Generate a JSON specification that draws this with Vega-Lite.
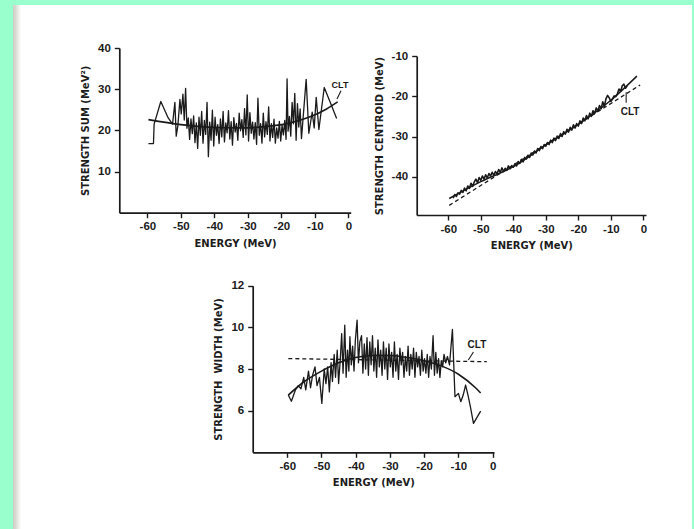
{
  "$schema": "https://vega.github.io/schema/vega-lite/v6.json",
  "width": 679,
  "height": 524,
  "autosize": "none",
  "padding": {"left": 13, "top": 5, "right": 2, "bottom": 0},
  "background": "#99ffcc",
  "config": {
    "view": {
      "stroke": null,
      "fill": {
        "gradient": "linear", "x1": 0, "y1": 0, "x2": 1, "y2": 0,
        "stops": [
          {"offset": 0, "color": "#cdcdc8"},
          {"offset": 0.004, "color": "#dadad5"},
          {"offset": 0.009, "color": "#f2f2ee"},
          {"offset": 0.012, "color": "#ffffff"},
          {"offset": 1, "color": "#ffffff"}
        ]
      }
    },
    "axis": {
      "grid": false,
      "domainColor": "#1a1a1a",
      "domainWidth": 1.7,
      "tickColor": "#1a1a1a",
      "tickWidth": 1.4,
      "tickSize": 5,
      "labelFont": "Liberation Sans",
      "labelFontWeight": "bold",
      "labelFontSize": 11.5,
      "labelColor": "#1c1c1c",
      "labelPadding": 3,
      "labelFlush": false,
      "labelOverlap": false,
      "labelExpr": "datum.value < 0 ? '-' + abs(datum.value) : '' + datum.value",
      "titleFont": "DejaVu Sans",
      "titleFontWeight": "bold",
      "titleFontSize": 10,
      "titleColor": "#1c1c1c",
      "titlePadding": 6
    },
    "axisY": {"labelPadding": 4, "titlePadding": 7},
    "line": {"color": "#1a1a1a", "strokeJoin": "round"},
    "text": {"color": "#1a1a1a", "font": "Liberation Sans", "fontWeight": "bold", "align": "center", "baseline": "middle"}
  },
  "datasets": {
    "sumA": [
      {"e": -59.7, "v": 16.8, "s": "calc"}, {"e": -58.2, "v": 16.8, "s": "calc"}, {"e": -58.0, "v": 21.5, "s": "calc"},
      {"e": -56.0, "v": 27.0, "s": "calc"}, {"e": -53.8, "v": 23.0, "s": "calc"}, {"e": -52.5, "v": 21.5, "s": "calc"},
      {"e": -51.8, "v": 26.8, "s": "calc"}, {"e": -51.4, "v": 18.6, "s": "calc"}, {"e": -50.9, "v": 21.2, "s": "calc"},
      {"e": -50.3, "v": 27.5, "s": "calc"}, {"e": -49.9, "v": 24.0, "s": "calc"}, {"e": -49.4, "v": 28.8, "s": "calc"},
      {"e": -49.0, "v": 22.5, "s": "calc"}, {"e": -48.6, "v": 30.2, "s": "calc"}, {"e": -48.2, "v": 20.5, "s": "calc"},
      {"e": -47.8, "v": 23.0, "s": "calc"}, {"e": -47.4, "v": 17.8, "s": "calc"}, {"e": -47.0, "v": 22.8, "s": "calc"},
      {"e": -46.6, "v": 19.2, "s": "calc"}, {"e": -46.2, "v": 23.5, "s": "calc"}, {"e": -45.8, "v": 17.0, "s": "calc"},
      {"e": -45.4, "v": 21.8, "s": "calc"}, {"e": -45.0, "v": 15.6, "s": "calc"}, {"e": -44.6, "v": 23.2, "s": "calc"},
      {"e": -44.2, "v": 18.8, "s": "calc"}, {"e": -43.8, "v": 24.6, "s": "calc"}, {"e": -43.4, "v": 16.9, "s": "calc"},
      {"e": -43.0, "v": 22.4, "s": "calc"}, {"e": -42.6, "v": 19.0, "s": "calc"}, {"e": -42.2, "v": 26.8, "s": "calc"},
      {"e": -41.8, "v": 13.6, "s": "calc"}, {"e": -41.4, "v": 22.0, "s": "calc"}, {"e": -41.0, "v": 17.6, "s": "calc"},
      {"e": -40.6, "v": 24.9, "s": "calc"}, {"e": -40.2, "v": 16.2, "s": "calc"}, {"e": -39.8, "v": 23.2, "s": "calc"},
      {"e": -39.4, "v": 18.8, "s": "calc"}, {"e": -39.0, "v": 21.4, "s": "calc"}, {"e": -38.6, "v": 16.8, "s": "calc"},
      {"e": -38.2, "v": 22.8, "s": "calc"}, {"e": -37.8, "v": 18.4, "s": "calc"}, {"e": -37.4, "v": 24.6, "s": "calc"},
      {"e": -37.0, "v": 17.2, "s": "calc"}, {"e": -36.6, "v": 21.8, "s": "calc"}, {"e": -36.2, "v": 19.4, "s": "calc"},
      {"e": -35.8, "v": 24.8, "s": "calc"}, {"e": -35.4, "v": 17.9, "s": "calc"}, {"e": -35.0, "v": 22.1, "s": "calc"},
      {"e": -34.6, "v": 16.4, "s": "calc"}, {"e": -34.2, "v": 23.1, "s": "calc"}, {"e": -33.8, "v": 19.6, "s": "calc"},
      {"e": -33.4, "v": 21.7, "s": "calc"}, {"e": -33.0, "v": 17.6, "s": "calc"}, {"e": -32.6, "v": 24.2, "s": "calc"},
      {"e": -32.2, "v": 19.9, "s": "calc"}, {"e": -31.8, "v": 22.6, "s": "calc"}, {"e": -31.4, "v": 18.3, "s": "calc"},
      {"e": -31.0, "v": 25.3, "s": "calc"}, {"e": -30.6, "v": 18.9, "s": "calc"}, {"e": -30.2, "v": 28.6, "s": "calc"},
      {"e": -29.8, "v": 17.4, "s": "calc"}, {"e": -29.4, "v": 24.3, "s": "calc"}, {"e": -29.0, "v": 19.3, "s": "calc"},
      {"e": -28.6, "v": 22.0, "s": "calc"}, {"e": -28.2, "v": 17.9, "s": "calc"}, {"e": -27.8, "v": 21.9, "s": "calc"},
      {"e": -27.4, "v": 16.6, "s": "calc"}, {"e": -27.0, "v": 27.8, "s": "calc"}, {"e": -26.6, "v": 18.8, "s": "calc"},
      {"e": -26.2, "v": 21.6, "s": "calc"}, {"e": -25.8, "v": 16.9, "s": "calc"}, {"e": -25.4, "v": 24.2, "s": "calc"},
      {"e": -25.0, "v": 18.4, "s": "calc"}, {"e": -24.6, "v": 22.1, "s": "calc"}, {"e": -24.2, "v": 19.0, "s": "calc"},
      {"e": -23.8, "v": 25.7, "s": "calc"}, {"e": -23.4, "v": 17.4, "s": "calc"}, {"e": -23.0, "v": 21.6, "s": "calc"},
      {"e": -22.6, "v": 18.3, "s": "calc"}, {"e": -22.2, "v": 22.7, "s": "calc"}, {"e": -21.8, "v": 16.9, "s": "calc"},
      {"e": -21.4, "v": 20.6, "s": "calc"}, {"e": -21.0, "v": 18.1, "s": "calc"}, {"e": -20.6, "v": 22.2, "s": "calc"},
      {"e": -20.2, "v": 17.4, "s": "calc"}, {"e": -19.8, "v": 21.2, "s": "calc"}, {"e": -19.4, "v": 18.9, "s": "calc"},
      {"e": -19.0, "v": 22.4, "s": "calc"}, {"e": -18.6, "v": 17.8, "s": "calc"}, {"e": -18.3, "v": 32.5, "s": "calc"},
      {"e": -18.0, "v": 19.8, "s": "calc"}, {"e": -17.6, "v": 23.4, "s": "calc"}, {"e": -17.2, "v": 18.6, "s": "calc"},
      {"e": -16.8, "v": 26.8, "s": "calc"}, {"e": -16.4, "v": 21.6, "s": "calc"}, {"e": -16.0, "v": 29.0, "s": "calc"},
      {"e": -15.6, "v": 17.6, "s": "calc"}, {"e": -15.2, "v": 26.5, "s": "calc"}, {"e": -14.8, "v": 20.8, "s": "calc"},
      {"e": -14.4, "v": 25.2, "s": "calc"}, {"e": -14.0, "v": 18.0, "s": "calc"}, {"e": -12.6, "v": 32.4, "s": "calc"},
      {"e": -11.8, "v": 19.3, "s": "calc"}, {"e": -10.8, "v": 24.4, "s": "calc"}, {"e": -10.2, "v": 20.6, "s": "calc"},
      {"e": -9.6, "v": 28.0, "s": "calc"}, {"e": -8.8, "v": 20.2, "s": "calc"}, {"e": -7.2, "v": 30.4, "s": "calc"},
      {"e": -5.0, "v": 26.0, "s": "calc"}, {"e": -3.5, "v": 22.9, "s": "calc"},
      {"e": -59.7, "v": 22.6, "s": "smooth"}, {"e": -50, "v": 21.4, "s": "smooth"}, {"e": -40, "v": 20.7, "s": "smooth"},
      {"e": -32, "v": 20.6, "s": "smooth"}, {"e": -25, "v": 20.9, "s": "smooth"}, {"e": -18, "v": 21.7, "s": "smooth"},
      {"e": -12, "v": 23.1, "s": "smooth"}, {"e": -6.5, "v": 25.2, "s": "smooth"}, {"e": -3.2, "v": 26.9, "s": "smooth"},
      {"e": -3.4, "v": 27.6, "s": "pointer"}, {"e": -2.2, "v": 29.6, "s": "pointer"},
      {"e": -2.5, "v": 30.9, "s": "label", "t": "CLT"}
    ],
    "centroidB": [
      {"e": -58.5, "v": -45.3, "s": "calc"}, {"e": -58.0, "v": -44.4, "s": "calc"}, {"e": -57.5, "v": -44.9, "s": "calc"},
      {"e": -57.0, "v": -44.0, "s": "calc"}, {"e": -56.5, "v": -44.3, "s": "calc"}, {"e": -56.0, "v": -43.4, "s": "calc"},
      {"e": -55.5, "v": -43.9, "s": "calc"}, {"e": -55.0, "v": -42.8, "s": "calc"}, {"e": -54.5, "v": -43.5, "s": "calc"},
      {"e": -54.0, "v": -42.3, "s": "calc"}, {"e": -53.5, "v": -42.9, "s": "calc"}, {"e": -53.0, "v": -41.6, "s": "calc"},
      {"e": -52.5, "v": -42.4, "s": "calc"}, {"e": -52.0, "v": -41.3, "s": "calc"}, {"e": -51.5, "v": -40.6, "s": "calc"},
      {"e": -51.0, "v": -41.5, "s": "calc"}, {"e": -50.5, "v": -40.2, "s": "calc"}, {"e": -50.0, "v": -40.9, "s": "calc"},
      {"e": -49.5, "v": -39.8, "s": "calc"}, {"e": -49.0, "v": -40.6, "s": "calc"}, {"e": -48.5, "v": -39.5, "s": "calc"},
      {"e": -48.0, "v": -40.3, "s": "calc"}, {"e": -47.5, "v": -39.2, "s": "calc"}, {"e": -47.0, "v": -39.8, "s": "calc"},
      {"e": -46.5, "v": -38.9, "s": "calc"}, {"e": -46.0, "v": -39.6, "s": "calc"}, {"e": -45.5, "v": -38.7, "s": "calc"},
      {"e": -45.0, "v": -39.3, "s": "calc"}, {"e": -44.5, "v": -38.2, "s": "calc"}, {"e": -44.0, "v": -38.9, "s": "calc"},
      {"e": -43.5, "v": -37.8, "s": "calc"}, {"e": -43.0, "v": -38.7, "s": "calc"}, {"e": -42.5, "v": -37.9, "s": "calc"},
      {"e": -42.0, "v": -38.4, "s": "calc"}, {"e": -41.5, "v": -37.3, "s": "calc"}, {"e": -41.0, "v": -38.0, "s": "calc"},
      {"e": -40.5, "v": -37.2, "s": "calc"}, {"e": -40.0, "v": -37.6, "s": "calc"}, {"e": -39.5, "v": -36.8, "s": "calc"},
      {"e": -39.0, "v": -37.3, "s": "calc"}, {"e": -38.5, "v": -36.2, "s": "calc"}, {"e": -38.0, "v": -36.7, "s": "calc"},
      {"e": -37.5, "v": -35.7, "s": "calc"}, {"e": -37.0, "v": -36.3, "s": "calc"}, {"e": -36.5, "v": -35.2, "s": "calc"},
      {"e": -36.0, "v": -35.6, "s": "calc"}, {"e": -35.5, "v": -34.7, "s": "calc"}, {"e": -35.0, "v": -35.2, "s": "calc"},
      {"e": -34.5, "v": -34.1, "s": "calc"}, {"e": -34.0, "v": -34.6, "s": "calc"}, {"e": -33.5, "v": -33.6, "s": "calc"},
      {"e": -33.0, "v": -34.1, "s": "calc"}, {"e": -32.5, "v": -33.0, "s": "calc"}, {"e": -32.0, "v": -33.5, "s": "calc"},
      {"e": -31.5, "v": -32.5, "s": "calc"}, {"e": -31.0, "v": -33.0, "s": "calc"}, {"e": -30.5, "v": -32.0, "s": "calc"},
      {"e": -30.0, "v": -32.4, "s": "calc"}, {"e": -29.5, "v": -31.5, "s": "calc"}, {"e": -29.0, "v": -32.0, "s": "calc"},
      {"e": -28.5, "v": -30.9, "s": "calc"}, {"e": -28.0, "v": -31.5, "s": "calc"}, {"e": -27.5, "v": -30.4, "s": "calc"},
      {"e": -27.0, "v": -31.0, "s": "calc"}, {"e": -26.5, "v": -29.9, "s": "calc"}, {"e": -26.0, "v": -30.5, "s": "calc"},
      {"e": -25.5, "v": -29.3, "s": "calc"}, {"e": -25.0, "v": -30.0, "s": "calc"}, {"e": -24.5, "v": -28.8, "s": "calc"},
      {"e": -24.0, "v": -29.4, "s": "calc"}, {"e": -23.5, "v": -28.2, "s": "calc"}, {"e": -23.0, "v": -28.9, "s": "calc"},
      {"e": -22.5, "v": -27.7, "s": "calc"}, {"e": -22.0, "v": -28.4, "s": "calc"}, {"e": -21.5, "v": -27.1, "s": "calc"},
      {"e": -21.0, "v": -27.9, "s": "calc"}, {"e": -20.5, "v": -26.8, "s": "calc"}, {"e": -20.0, "v": -27.4, "s": "calc"},
      {"e": -19.5, "v": -26.1, "s": "calc"}, {"e": -19.0, "v": -26.8, "s": "calc"}, {"e": -18.5, "v": -25.4, "s": "calc"},
      {"e": -18.0, "v": -26.1, "s": "calc"}, {"e": -17.5, "v": -24.8, "s": "calc"}, {"e": -17.0, "v": -25.6, "s": "calc"},
      {"e": -16.5, "v": -24.2, "s": "calc"}, {"e": -16.0, "v": -25.0, "s": "calc"}, {"e": -15.5, "v": -23.6, "s": "calc"},
      {"e": -15.0, "v": -24.3, "s": "calc"}, {"e": -14.5, "v": -22.9, "s": "calc"}, {"e": -14.0, "v": -23.7, "s": "calc"},
      {"e": -13.5, "v": -22.3, "s": "calc"}, {"e": -13.0, "v": -23.1, "s": "calc"}, {"e": -12.5, "v": -21.4, "s": "calc"},
      {"e": -12.0, "v": -22.5, "s": "calc"}, {"e": -11.5, "v": -20.6, "s": "calc"}, {"e": -11.0, "v": -19.8, "s": "calc"},
      {"e": -10.5, "v": -20.4, "s": "calc"}, {"e": -10.0, "v": -21.3, "s": "calc"}, {"e": -9.5, "v": -20.7, "s": "calc"},
      {"e": -9.0, "v": -19.9, "s": "calc"}, {"e": -8.5, "v": -20.1, "s": "calc"}, {"e": -8.0, "v": -19.4, "s": "calc"},
      {"e": -7.5, "v": -18.2, "s": "calc"}, {"e": -7.0, "v": -18.8, "s": "calc"}, {"e": -6.5, "v": -17.4, "s": "calc"},
      {"e": -6.0, "v": -17.0, "s": "calc"}, {"e": -5.5, "v": -18.0, "s": "calc"}, {"e": -5.0, "v": -17.4, "s": "calc"},
      {"e": -59.7, "v": -45.4, "s": "smooth"}, {"e": -50, "v": -41.2, "s": "smooth"}, {"e": -40, "v": -37.5, "s": "smooth"},
      {"e": -30, "v": -32.1, "s": "smooth"}, {"e": -20, "v": -27.0, "s": "smooth"}, {"e": -10, "v": -21.0, "s": "smooth"},
      {"e": -2, "v": -15.0, "s": "smooth"},
      {"e": -59.7, "v": -47.1, "s": "dashed"}, {"e": -30, "v": -32.0, "s": "dashed"}, {"e": -1, "v": -17.2, "s": "dashed"},
      {"e": -5.3, "v": -19.0, "s": "pointer"}, {"e": -5.3, "v": -21.6, "s": "pointer"},
      {"e": -4.1, "v": -23.8, "s": "label", "t": "CLT"}
    ],
    "widthC": [
      {"e": -59.7, "v": 6.75, "s": "calc"}, {"e": -58.8, "v": 6.45, "s": "calc"}, {"e": -57.6, "v": 7.0, "s": "calc"},
      {"e": -56.8, "v": 7.2, "s": "calc"}, {"e": -56.0, "v": 7.05, "s": "calc"}, {"e": -55.2, "v": 7.6, "s": "calc"},
      {"e": -54.6, "v": 7.0, "s": "calc"}, {"e": -53.8, "v": 7.9, "s": "calc"}, {"e": -53.2, "v": 7.1, "s": "calc"},
      {"e": -52.6, "v": 7.7, "s": "calc"}, {"e": -51.9, "v": 8.1, "s": "calc"}, {"e": -51.3, "v": 7.2, "s": "calc"},
      {"e": -50.6, "v": 7.6, "s": "calc"}, {"e": -49.9, "v": 6.35, "s": "calc"}, {"e": -49.2, "v": 8.0, "s": "calc"},
      {"e": -48.7, "v": 7.3, "s": "calc"}, {"e": -48.2, "v": 8.1, "s": "calc"}, {"e": -47.7, "v": 6.9, "s": "calc"},
      {"e": -47.2, "v": 8.3, "s": "calc"}, {"e": -46.8, "v": 7.4, "s": "calc"}, {"e": -46.3, "v": 8.7, "s": "calc"},
      {"e": -45.9, "v": 7.6, "s": "calc"}, {"e": -45.4, "v": 8.9, "s": "calc"}, {"e": -45.0, "v": 7.3, "s": "calc"},
      {"e": -44.5, "v": 8.5, "s": "calc"}, {"e": -44.1, "v": 9.7, "s": "calc"}, {"e": -43.7, "v": 7.8, "s": "calc"},
      {"e": -43.2, "v": 10.1, "s": "calc"}, {"e": -42.8, "v": 7.6, "s": "calc"}, {"e": -42.4, "v": 8.9, "s": "calc"},
      {"e": -42.0, "v": 7.9, "s": "calc"}, {"e": -41.7, "v": 9.55, "s": "calc"}, {"e": -41.3, "v": 8.2, "s": "calc"},
      {"e": -40.9, "v": 9.1, "s": "calc"}, {"e": -40.5, "v": 7.9, "s": "calc"}, {"e": -40.1, "v": 9.4, "s": "calc"},
      {"e": -39.6, "v": 10.35, "s": "calc"}, {"e": -39.2, "v": 8.3, "s": "calc"}, {"e": -38.8, "v": 9.3, "s": "calc"},
      {"e": -38.3, "v": 9.6, "s": "calc"}, {"e": -37.9, "v": 7.8, "s": "calc"}, {"e": -37.5, "v": 9.2, "s": "calc"},
      {"e": -37.1, "v": 8.0, "s": "calc"}, {"e": -36.7, "v": 9.5, "s": "calc"}, {"e": -36.3, "v": 7.7, "s": "calc"},
      {"e": -35.9, "v": 9.3, "s": "calc"}, {"e": -35.5, "v": 8.2, "s": "calc"}, {"e": -35.1, "v": 9.6, "s": "calc"},
      {"e": -34.7, "v": 7.9, "s": "calc"}, {"e": -34.3, "v": 9.0, "s": "calc"}, {"e": -33.9, "v": 7.6, "s": "calc"},
      {"e": -33.5, "v": 9.4, "s": "calc"}, {"e": -33.1, "v": 8.1, "s": "calc"}, {"e": -32.7, "v": 8.9, "s": "calc"},
      {"e": -32.3, "v": 7.7, "s": "calc"}, {"e": -31.9, "v": 9.3, "s": "calc"}, {"e": -31.5, "v": 8.0, "s": "calc"},
      {"e": -31.1, "v": 9.0, "s": "calc"}, {"e": -30.7, "v": 7.5, "s": "calc"}, {"e": -30.3, "v": 9.2, "s": "calc"},
      {"e": -29.9, "v": 8.1, "s": "calc"}, {"e": -29.5, "v": 8.8, "s": "calc"}, {"e": -29.1, "v": 7.6, "s": "calc"},
      {"e": -28.7, "v": 9.3, "s": "calc"}, {"e": -28.3, "v": 7.9, "s": "calc"}, {"e": -27.9, "v": 8.7, "s": "calc"},
      {"e": -27.5, "v": 7.5, "s": "calc"}, {"e": -27.1, "v": 9.0, "s": "calc"}, {"e": -26.7, "v": 8.2, "s": "calc"},
      {"e": -26.3, "v": 8.8, "s": "calc"}, {"e": -25.9, "v": 7.6, "s": "calc"}, {"e": -25.5, "v": 8.6, "s": "calc"},
      {"e": -25.1, "v": 7.9, "s": "calc"}, {"e": -24.7, "v": 9.1, "s": "calc"}, {"e": -24.3, "v": 7.7, "s": "calc"},
      {"e": -23.9, "v": 8.7, "s": "calc"}, {"e": -23.5, "v": 8.0, "s": "calc"}, {"e": -23.1, "v": 9.0, "s": "calc"},
      {"e": -22.7, "v": 7.6, "s": "calc"}, {"e": -22.3, "v": 8.8, "s": "calc"}, {"e": -21.9, "v": 8.1, "s": "calc"},
      {"e": -21.5, "v": 8.6, "s": "calc"}, {"e": -21.1, "v": 7.7, "s": "calc"}, {"e": -20.7, "v": 8.9, "s": "calc"},
      {"e": -20.3, "v": 7.9, "s": "calc"}, {"e": -19.9, "v": 8.5, "s": "calc"}, {"e": -19.5, "v": 7.8, "s": "calc"},
      {"e": -19.1, "v": 8.7, "s": "calc"}, {"e": -18.7, "v": 7.6, "s": "calc"}, {"e": -18.3, "v": 8.6, "s": "calc"},
      {"e": -17.9, "v": 8.0, "s": "calc"}, {"e": -17.4, "v": 9.6, "s": "calc"}, {"e": -17.0, "v": 7.7, "s": "calc"},
      {"e": -16.6, "v": 8.8, "s": "calc"}, {"e": -16.2, "v": 7.8, "s": "calc"}, {"e": -15.8, "v": 8.5, "s": "calc"},
      {"e": -15.4, "v": 7.6, "s": "calc"}, {"e": -15.0, "v": 8.4, "s": "calc"}, {"e": -14.6, "v": 8.1, "s": "calc"},
      {"e": -14.2, "v": 8.7, "s": "calc"}, {"e": -13.7, "v": 8.3, "s": "calc"}, {"e": -13.2, "v": 8.6, "s": "calc"},
      {"e": -12.6, "v": 8.2, "s": "calc"}, {"e": -11.75, "v": 9.9, "s": "calc"}, {"e": -11.0, "v": 6.67, "s": "calc"},
      {"e": -10.0, "v": 6.83, "s": "calc"}, {"e": -9.3, "v": 6.43, "s": "calc"}, {"e": -8.6, "v": 6.75, "s": "calc"},
      {"e": -7.9, "v": 7.23, "s": "calc"}, {"e": -7.2, "v": 6.75, "s": "calc"}, {"e": -6.5, "v": 6.19, "s": "calc"},
      {"e": -5.6, "v": 5.39, "s": "calc"}, {"e": -3.5, "v": 5.98, "s": "calc"},
      {"e": -59.7, "v": 6.75, "s": "smooth"}, {"e": -55, "v": 7.4, "s": "smooth"}, {"e": -50, "v": 7.9, "s": "smooth"},
      {"e": -45, "v": 8.3, "s": "smooth"}, {"e": -40, "v": 8.55, "s": "smooth"}, {"e": -35, "v": 8.65, "s": "smooth"},
      {"e": -30, "v": 8.65, "s": "smooth"}, {"e": -25, "v": 8.55, "s": "smooth"}, {"e": -20, "v": 8.4, "s": "smooth"},
      {"e": -15, "v": 8.15, "s": "smooth"}, {"e": -10, "v": 7.75, "s": "smooth"}, {"e": -5, "v": 7.1, "s": "smooth"},
      {"e": -3.5, "v": 6.85, "s": "smooth"},
      {"e": -59.7, "v": 8.5, "s": "dashed"}, {"e": -1.7, "v": 8.35, "s": "dashed"},
      {"e": -7.1, "v": 8.43, "s": "pointer"}, {"e": -5.6, "v": 8.82, "s": "pointer"},
      {"e": -4.6, "v": 9.15, "s": "label", "t": "CLT"}
    ]
  },
  "layer": [
    {
      "data": {"name": "sumA"},
      "encoding": {
        "x": {
          "field": "e", "type": "quantitative",
          "scale": {"domain": [-68.4, 0.7], "range": [106.3, 337.7], "nice": false, "zero": false},
          "axis": {"orient": "bottom", "offset": -316.3, "values": [-60, -50, -40, -30, -20, -10, 0], "title": "ENERGY (MeV)"}
        },
        "y": {
          "field": "v", "type": "quantitative",
          "scale": {"domain": [0, 40], "range": [207.7, 43], "nice": false, "zero": false},
          "axis": {"orient": "left", "offset": -106.3, "values": [10, 20, 30, 40], "title": "STRENGTH SUM (MeV²)"}
        }
      },
      "layer": [
        {"transform": [{"filter": "datum.s == 'calc'"}], "mark": {"type": "line", "strokeWidth": 1.3}},
        {"transform": [{"filter": "datum.s == 'smooth'"}], "mark": {"type": "line", "interpolate": "monotone", "strokeWidth": 1.6}},
        {"transform": [{"filter": "datum.s == 'pointer'"}], "mark": {"type": "line", "strokeWidth": 1.1}},
        {"transform": [{"filter": "datum.s == 'label'"}], "mark": {"type": "text", "fontSize": 9}, "encoding": {"text": {"field": "t"}}}
      ]
    },
    {
      "data": {"name": "centroidB"},
      "encoding": {
        "x": {
          "field": "e", "type": "quantitative",
          "scale": {"domain": [-69.7, 0.8], "range": [403.7, 633], "nice": false, "zero": false},
          "axis": {"orient": "bottom", "offset": -314, "values": [-60, -50, -40, -30, -20, -10, 0], "title": "ENERGY (MeV)"}
        },
        "y": {
          "field": "v", "type": "quantitative",
          "scale": {"domain": [-49.5, -10], "range": [210, 51], "nice": false, "zero": false},
          "axis": {"orient": "left", "offset": -403.7, "values": [-40, -30, -20, -10], "title": "STRENGTH CENTROID (MeV)"}
        }
      },
      "layer": [
        {"transform": [{"filter": "datum.s == 'calc'"}], "mark": {"type": "line", "strokeWidth": 1.6}},
        {"transform": [{"filter": "datum.s == 'smooth'"}], "mark": {"type": "line", "interpolate": "monotone", "strokeWidth": 1.5}},
        {"transform": [{"filter": "datum.s == 'dashed'"}], "mark": {"type": "line", "strokeWidth": 1.3, "strokeDash": [4, 3]}},
        {"transform": [{"filter": "datum.s == 'pointer'"}], "mark": {"type": "line", "strokeWidth": 1.1}},
        {"transform": [{"filter": "datum.s == 'label'"}], "mark": {"type": "text", "fontSize": 10}, "encoding": {"text": {"field": "t"}}}
      ]
    },
    {
      "data": {"name": "widthC"},
      "encoding": {
        "x": {
          "field": "e", "type": "quantitative",
          "scale": {"domain": [-70.1, 0.4], "range": [239.7, 481], "nice": false, "zero": false},
          "axis": {"orient": "bottom", "offset": -76.7, "values": [-60, -50, -40, -30, -20, -10, 0], "title": "ENERGY (MeV)"}
        },
        "y": {
          "field": "v", "type": "quantitative",
          "scale": {"domain": [4, 12], "range": [447.3, 280.7], "nice": false, "zero": false},
          "axis": {"orient": "left", "offset": -239.7, "values": [6, 8, 10, 12], "title": "STRENGTH\u00a0 WIDTH (MeV)"}
        }
      },
      "layer": [
        {"transform": [{"filter": "datum.s == 'calc'"}], "mark": {"type": "line", "strokeWidth": 1.3}},
        {"transform": [{"filter": "datum.s == 'smooth'"}], "mark": {"type": "line", "interpolate": "monotone", "strokeWidth": 1.6}},
        {"transform": [{"filter": "datum.s == 'dashed'"}], "mark": {"type": "line", "strokeWidth": 1.3, "strokeDash": [4, 3]}},
        {"transform": [{"filter": "datum.s == 'pointer'"}], "mark": {"type": "line", "strokeWidth": 1.1}},
        {"transform": [{"filter": "datum.s == 'label'"}], "mark": {"type": "text", "fontSize": 10}, "encoding": {"text": {"field": "t"}}}
      ]
    }
  ],
  "resolve": {
    "scale": {"x": "independent", "y": "independent"},
    "axis": {"x": "independent", "y": "independent"}
  }
}
